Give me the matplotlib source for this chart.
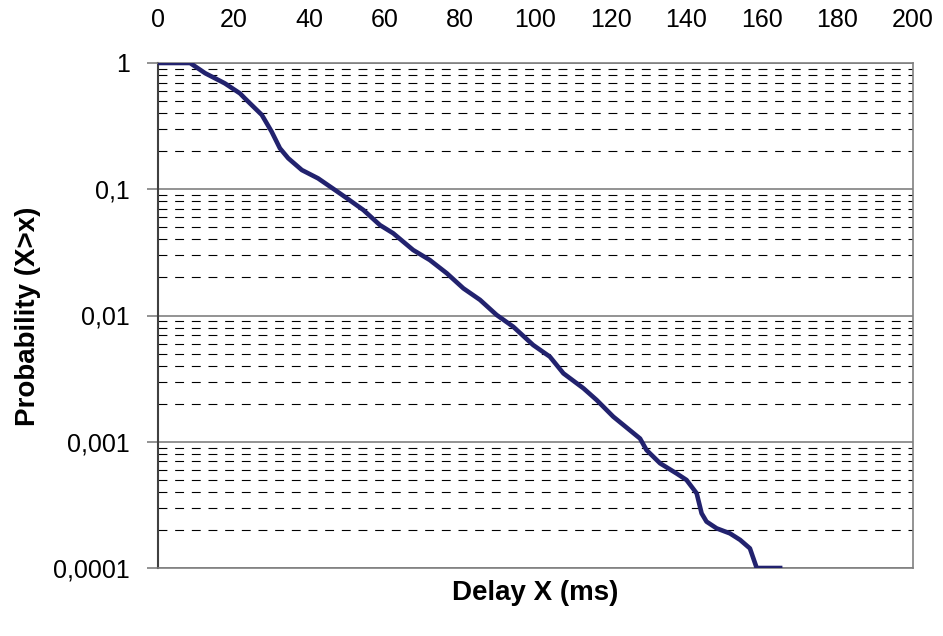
import numpy as np
import matplotlib
matplotlib.use("Agg")
import matplotlib.pyplot as plt
from matplotlib.ticker import FixedLocator, LogLocator, NullFormatter

plt.rcParams['font.family'] = ['Liberation Sans', 'DejaVu Sans']

# delay (ms) and P(X>x)
delay = [0, 8.5, 12.5, 17.7, 21.7, 23, 27.5, 30.1, 32.3, 34.5, 38.1, 42.4, 46.9,
         50, 54.4, 58.8, 62.3, 67.6, 72, 76.5, 80.9, 85.3, 89.7, 94.1, 99.4,
         103.8, 107.4, 112.7, 116.2, 120.6, 127.7, 129.4, 133, 137.4, 140, 142.7,
         144, 145.3, 148, 151.5, 154.2, 156.8, 158.6, 164.8]
prob = [1, 1, 0.83, 0.69, 0.575, 0.525, 0.388, 0.286, 0.211, 0.176, 0.142, 0.122, 0.0986,
        0.085, 0.0685, 0.052, 0.0448, 0.033, 0.0275, 0.0216, 0.0164, 0.0133, 0.0101, 0.00815, 0.00583,
        0.00472, 0.00348, 0.00265, 0.00214, 0.00158, 0.00106, 0.00086, 0.000675, 0.00056, 0.000498, 0.00039,
        0.000271, 0.000233, 0.000206, 0.000188, 0.000167, 0.000143, 0.0001, 0.0001]

x_ticks = [0, 20, 40, 60, 80, 100, 120, 140, 160, 180, 200]
y_ticks = [1, 0.1, 0.01, 0.001, 0.0001]
y_labels = ["1", "0,1", "0,01", "0,001", "0,0001"]

fig = plt.figure(figsize=(9.43, 6.36), dpi=100)
ax = fig.add_axes([158/943, 1-568/636, (913-158)/943, (568-63)/636])

ax.plot(delay, prob, color="#22226e", lw=3.3, solid_joinstyle="round", zorder=3)

ax.set_yscale("log")
ax.set_xlim(0, 200)
ax.set_ylim(0.0001, 1)

ax.xaxis.tick_top()
ax.set_xticks(x_ticks)
ax.tick_params(axis="x", which="both", length=0, pad=22, labelsize=18)
ax.yaxis.set_major_locator(FixedLocator(y_ticks))
ax.set_yticklabels(y_labels)
ax.yaxis.set_minor_locator(LogLocator(base=10, subs=np.arange(2, 10)))
ax.yaxis.set_minor_formatter(NullFormatter())
ax.tick_params(axis="y", which="major", length=8, width=1.2, color="#808080",
               pad=12, labelsize=18)
ax.tick_params(axis="y", which="minor", length=0)

ax.grid(False, axis="x")
ax.grid(True, axis="y", which="major", color="#808080", lw=1.2, ls="-")
ax.grid(True, axis="y", which="minor", color="black", lw=0.8, ls=(0, (8, 7)))
ax.set_axisbelow(True)

for s in ["top", "right", "bottom"]:
    ax.spines[s].set_color("#808080")
    ax.spines[s].set_linewidth(1.2)
ax.spines["left"].set_color("#404040")
ax.spines["left"].set_linewidth(1.5)

fig.text(535/943, 1-593/636, "Delay X (ms)", ha="center", va="center",
         fontsize=20, fontweight="bold")
fig.text(28/943, 1-316/636, "Probability (X>x)", ha="center", va="center",
         rotation=90, fontsize=20, fontweight="bold")

fig.savefig("out.png", dpi=100)
